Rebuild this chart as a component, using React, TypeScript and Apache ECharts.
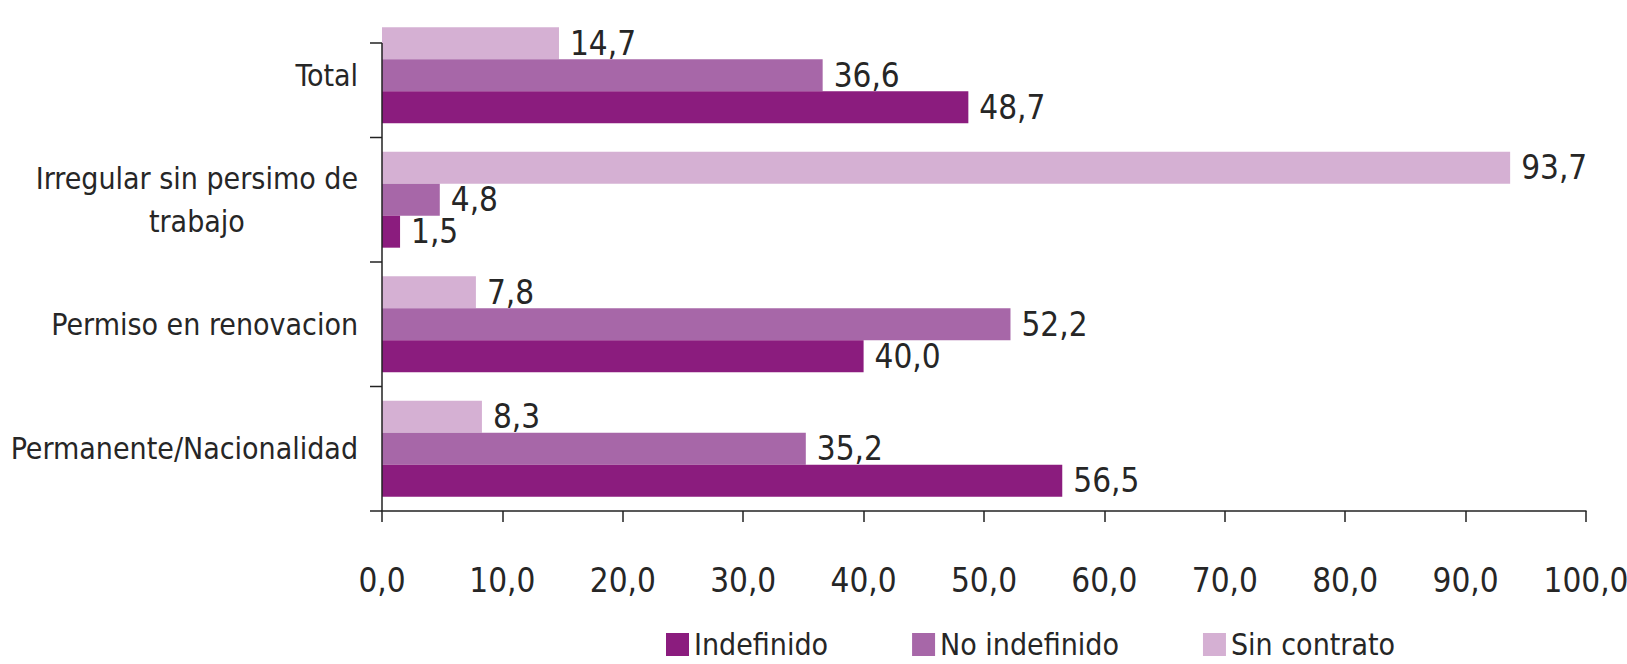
import React, { useEffect, useRef } from "react";
import * as echarts from "echarts";

const categories = [
  "Total",
  "Irregular sin persimo de\ntrabajo",
  "Permiso en renovacion",
  "Permanente/Nacionalidad",
];
const seriesNames = ["Indefinido", "No indefinido", "Sin contrato"];
const indefinido = [48.7, 1.5, 40.0, 56.5];
const noIndefinido = [36.6, 4.8, 52.2, 35.2];
const sinContrato = [14.7, 93.7, 7.8, 8.3];
const xTicks = [0, 10, 20, 30, 40, 50, 60, 70, 80, 90, 100];

const COLORS = ["#8b1c7e", "#a767a8", "#d5b0d3"];
const FONT = "'Liberation Sans Narrow', 'DejaVu Sans Condensed', sans-serif";
const TEXT = "#262626";
const AXIS = "#222222";
const TXT_SIZE = 30;
const NUM_SIZE = 33;

const W = 1627;
const H = 664;
const GRID_LEFT = 382;
const GRID_RIGHT = 41;
const GRID_TOP = 13;
const GRID_BOTTOM = 153;

const fmt = (v: number) => v.toFixed(1).replace(".", ",");

export default function App() {
  const ref = useRef<HTMLDivElement>(null);
  useEffect(() => {
    if (!ref.current) return;
    const chart = echarts.init(ref.current, undefined, { renderer: "svg" });
    const gridH = H - GRID_TOP - GRID_BOTTOM;
    const band = gridH / categories.length;
    const axisTop = 43;
    const lines: any[] = [];
    lines.push({
      type: "line",
      shape: { x1: GRID_LEFT, y1: axisTop, x2: GRID_LEFT, y2: GRID_TOP + gridH },
      style: { stroke: AXIS, lineWidth: 1.5 },
      z: 10,
    });
    lines.push({
      type: "line",
      shape: { x1: GRID_LEFT - 12, y1: axisTop, x2: GRID_LEFT, y2: axisTop },
      style: { stroke: AXIS, lineWidth: 1.5 },
      z: 10,
    });
    for (let i = 1; i <= categories.length; i++) {
      const y = GRID_TOP + band * i;
      lines.push({
        type: "line",
        shape: { x1: GRID_LEFT - 12, y1: y, x2: GRID_LEFT, y2: y },
        style: { stroke: AXIS, lineWidth: 1.5 },
        z: 10,
      });
    }
    const mk = (name: string, data: number[], color: string) => ({
      name,
      type: "bar",
      data,
      barGap: "0%",
      barCategoryGap: "23%",
      itemStyle: { color },
      label: {
        show: true,
        position: "right",
        distance: 11,
        color: TEXT,
        fontFamily: FONT,
        fontSize: NUM_SIZE,
        formatter: (p: any) => fmt(p.value),
      },
    });
    chart.setOption({
      animation: false,
      backgroundColor: "#ffffff",
      textStyle: { fontFamily: FONT },
      grid: {
        left: GRID_LEFT,
        right: GRID_RIGHT,
        top: GRID_TOP,
        bottom: GRID_BOTTOM,
        containLabel: false,
        outerBoundsMode: "none",
      },
      legend: {
        data: seriesNames,
        top: 629,
        left: 666,
        itemWidth: 23,
        itemHeight: 23,
        itemGap: 84,
        icon: "rect",
        padding: 0,
        textStyle: { fontFamily: FONT, fontSize: TXT_SIZE, color: TEXT, lineHeight: 31 },
      },
      xAxis: {
        type: "value",
        min: xTicks[0],
        max: xTicks[xTicks.length - 1],
        interval: xTicks[1] - xTicks[0],
        axisLine: { show: true, lineStyle: { color: AXIS, width: 1.5 } },
        axisTick: { show: true, inside: false, length: 11, lineStyle: { color: AXIS, width: 1.5 } },
        splitLine: { show: false },
        axisLabel: {
          margin: 53,
          color: TEXT,
          fontFamily: FONT,
          fontSize: NUM_SIZE,
          formatter: (v: number) => fmt(v),
        },
      },
      yAxis: {
        type: "category",
        inverse: true,
        data: categories,
        axisLine: { show: false },
        axisTick: { show: false },
        axisLabel: {
          margin: 24,
          color: TEXT,
          fontFamily: FONT,
          fontSize: TXT_SIZE,
          lineHeight: 43,
          formatter: (v: string) =>
            v
              .split("\n")
              .map((s) => `{c|${s}}`)
              .join("\n"),
          rich: {
            c: { align: "center", fontFamily: FONT, fontSize: TXT_SIZE, color: TEXT, lineHeight: 43 },
          },
        },
      },
      series: [
        mk(seriesNames[2], sinContrato, COLORS[2]),
        mk(seriesNames[1], noIndefinido, COLORS[1]),
        mk(seriesNames[0], indefinido, COLORS[0]),
      ],
      graphic: lines,
    });
    return () => chart.dispose();
  }, []);
  return (
    <div
      ref={ref}
      style={{ position: "fixed", left: 0, top: 0, width: W, height: H, background: "#fff" }}
    />
  );
}
